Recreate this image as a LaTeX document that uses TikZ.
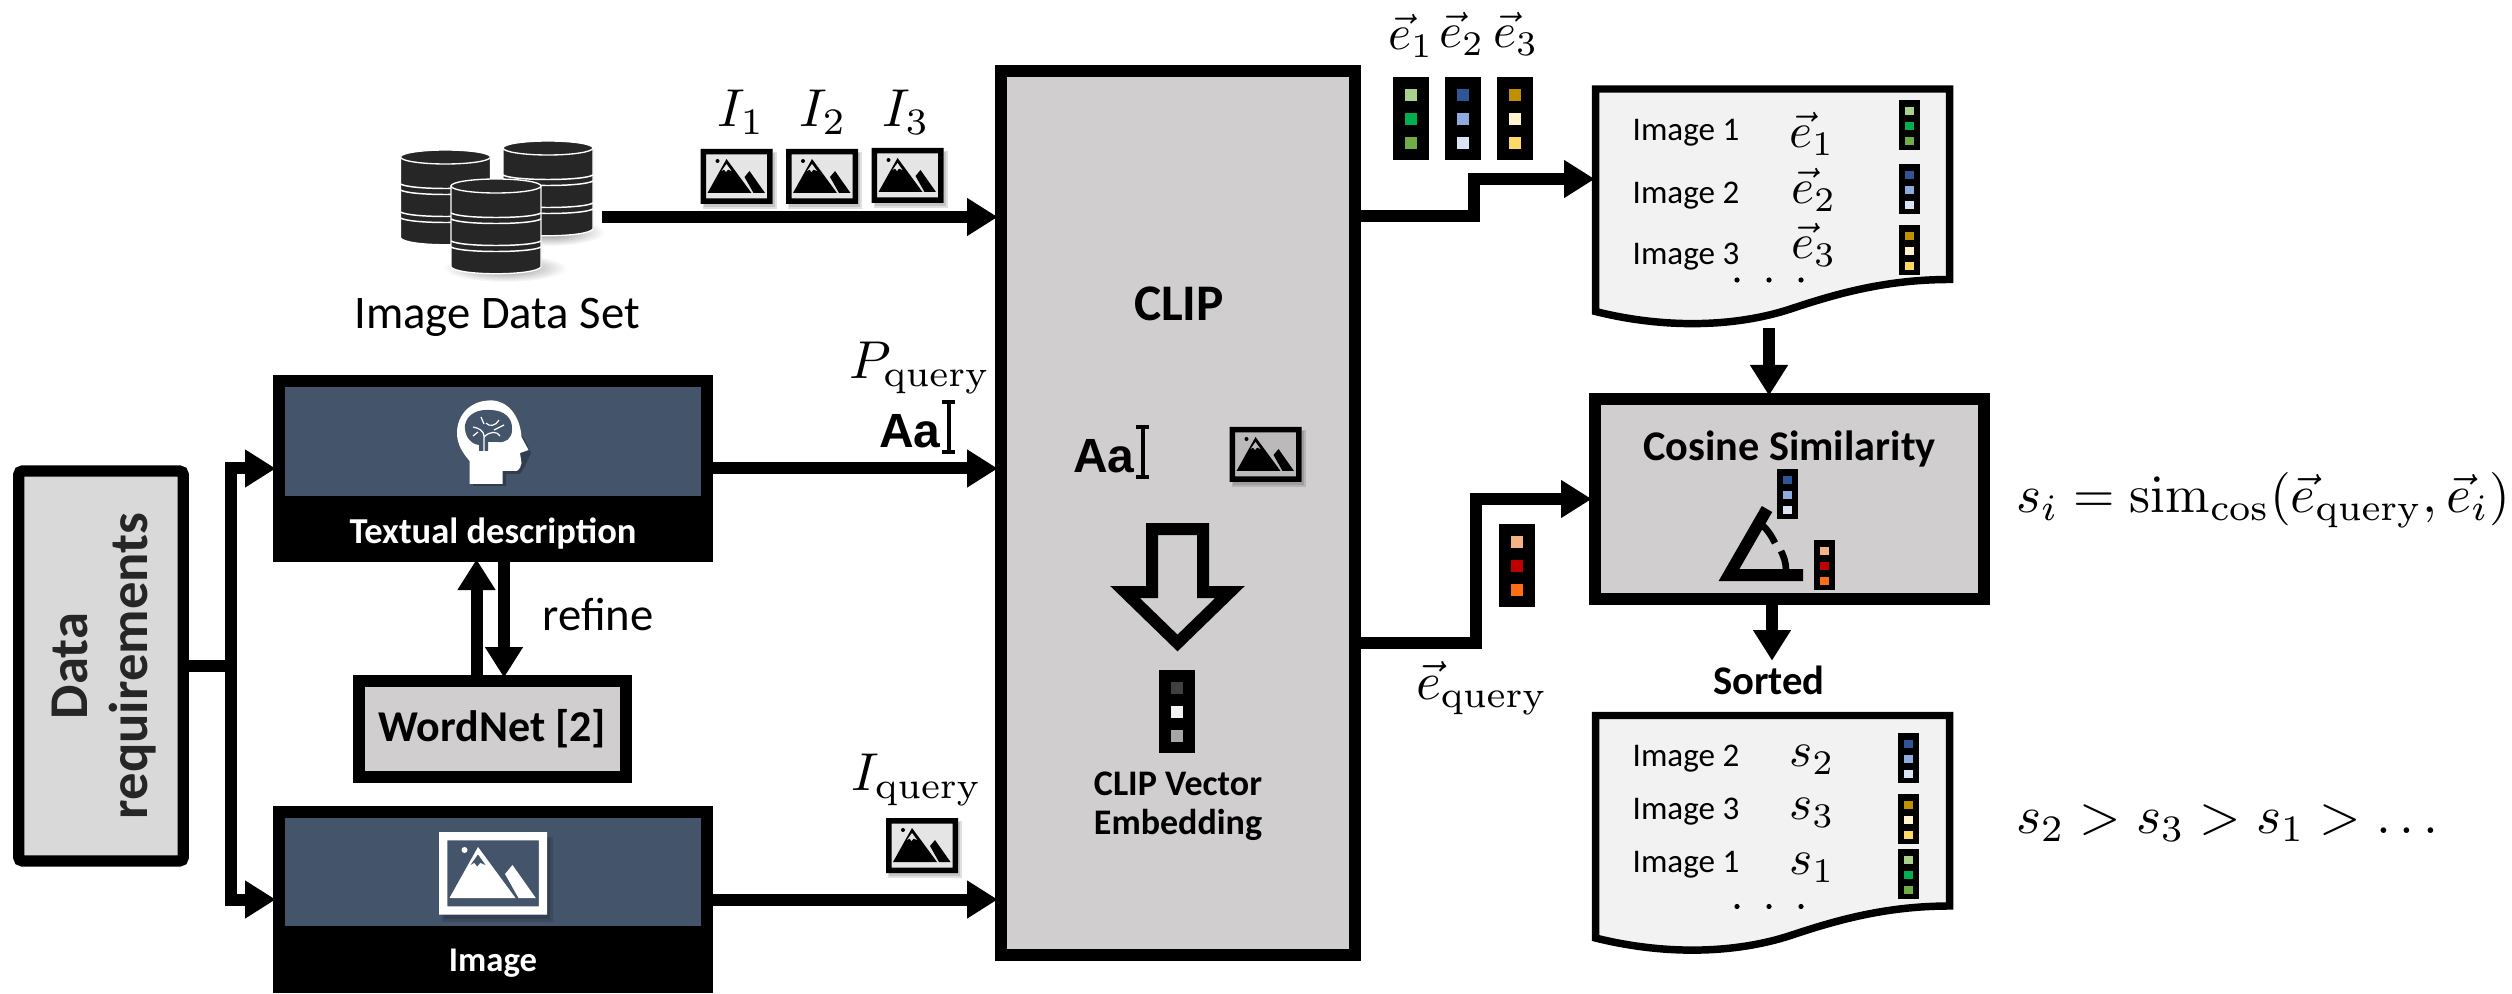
\documentclass[tikz,border=0pt]{standalone}
\usepackage{amsmath}
\usepackage{amssymb}
\usepackage[no-math]{fontspec}
\setsansfont{Carlito}
\newfontfamily\aafont{Liberation Sans}
\usepackage{tikz}
\usetikzlibrary{positioning,arrows.meta}

\definecolor{boxgray}{RGB}{208,206,206}
\definecolor{reqgray}{RGB}{217,217,217}
\definecolor{docgray}{RGB}{242,242,242}
\definecolor{headblue}{RGB}{68,84,106}
\definecolor{dbgray}{RGB}{38,38,38}

\def\pxu{0.75pt}

\tikzset{
  fl/.style={yscale=-1},
  boxnode/.style={draw=black,line width=9pt,fill=boxgray,inner sep=0pt},
  headnode/.style={fill=black,inner sep=0pt,outer sep=0pt},
  conn/.style={line width=9pt,shorten >=-2pt,-{Triangle[length=23pt,width=27pt]}},
  plainlab/.style={font=\sffamily\fontsize{#1}{#1}\selectfont,inner sep=0pt,align=center},
  boldlab/.style={font=\sffamily\bfseries\fontsize{#1}{#1}\selectfont,inner sep=0pt,align=center},
  mathlab/.style={scale=#1/10,inner sep=0pt},
  aalab/.style={font=\aafont\bfseries\fontsize{36}{36}\selectfont,inner sep=0pt},
  pics/vecicon/.style n args={3}{code={
    \fill[black] (0,0) rectangle (36,83);
    \fill[#1] (12,12) rectangle (24,24);
    \fill[#2] (12,36) rectangle (24,48);
    \fill[#3] (12,60) rectangle (24,72);
  }},
  pics/vecsmall/.style n args={3}{code={
    \fill[black] (0,0) rectangle (21,50);
    \fill[#1] (6,7) rectangle (15,15);
    \fill[#2] (6,22) rectangle (15,30);
    \fill[#3] (6,37) rectangle (15,45);
  }},
  pics/imgicon/.style n args={2}{code={
    \fill[black,opacity=.12] (2,3) rectangle (76,60);
    \fill[black,opacity=.12] (3,4) rectangle (74,58);
    \fill[#2] (0,0) rectangle (72,55);
    \fill[#1,even odd rule] (0,0) rectangle (72,55) (5.5,5.5) rectangle (66.5,49.5);
    \fill[#1] (17,12) circle (2);
    \fill[#1] (26,10) -- (51,44) -- (7,44) -- cycle;
    \fill[#2] (26,15) -- (31,22) -- (27.5,20.5) -- (25.5,23) -- (23.5,20.5) -- (21,22) -- cycle;
    \fill[#1] (44,28) -- (49,22) -- (64.5,44) -- (53,44) -- cycle;
  }},
  pics/textcursor/.style={code={
    \fill[black] (0,0) rectangle (13,4);
    \fill[black] (0,50) rectangle (13,54);
    \fill[black] (4.5,0) rectangle (8.5,54);
  }},
  pics/dbcyl/.style={code={
    \fill[dbgray,draw=white,line width=1pt] (0,7) -- (0,88) .. controls (6,97) and (84,97) .. (90,88) -- (90,7) -- cycle;
    \draw[white,line width=1.1pt] (0,34) .. controls (10,40) and (80,40) .. (90,34);
    \draw[white,line width=1.1pt] (0,40) .. controls (10,46) and (80,46) .. (90,40);
    \draw[white,line width=1.1pt] (0,62) .. controls (10,68) and (80,68) .. (90,62);
    \draw[white,line width=1.1pt] (0,68) .. controls (10,74) and (80,74) .. (90,68);
    \fill[dbgray,draw=white,line width=1pt] (45,7) ellipse (45 and 7);
  }},
  pics/docpage/.style={code={
    \draw[line width=5.6pt,fill=docgray] (0,0) -- (354,0) -- (354,190.5) .. controls (290,190.5) and (240,205) .. (195,220) .. controls (140,238) and (70,240) .. (0,222.5) -- cycle;
    \fill[black] (141.5,191) circle (2.6) (173.5,191) circle (2.6) (205.5,191) circle (2.6);
  }}
}

\begin{document}
\begin{tikzpicture}[x=0.75pt,y=0.75pt,yscale=-1,xscale=1]
\useasboundingbox (0,0) rectangle (2512,994);

%Shape: Main boxes
\node[boxnode,minimum width=354*\pxu,minimum height=884*\pxu] (clipbox) at (1178,513) {};
\node[boxnode,minimum width=389*\pxu,minimum height=200*\pxu] (cosine) at (1789.5,499) {};
\node[boxnode,minimum width=267*\pxu,minimum height=96*\pxu] (wordnet) at (492.5,729) {\fontsize{33}{33}\selectfont\sffamily\bfseries WordNet [2]};
\node[boxnode,fill=reqgray,rounded corners=3pt,line width=8.6pt,minimum width=164.5*\pxu,minimum height=390*\pxu] (datareq) at (101,666) {};
\node[boldlab=41,text=black!85,rotate=90,execute at begin node=\setlength{\baselineskip}{45pt}] (datalab) at (104,666) {Data\\requirements};

%Shape: Input boxes
\node[headnode,minimum width=440*\pxu,minimum height=187*\pxu] (textbox) at (493,468.5) {};
\fill[headblue] (285,387.5) rectangle (701,496);
\node[boldlab=27.4,text=white] (textlab) at (493,534) {Textual description};
\node[headnode,minimum width=440*\pxu,minimum height=187*\pxu] (imagebox) at (493,899.5) {};
\fill[headblue] (285,818) rectangle (701,926);
\node[boldlab=26,text=white] (imagelab) at (493,963) {Image};

%Shape: Head with brain
\fill[black,opacity=.25] (473,486) -- (506,486) -- (506,474) -- (520,474) -- (525,466) -- (531,453) -- (525,440) -- (495,404) -- (473,440) -- cycle;
\fill[white] (469.6,484) -- (502.6,484) -- (502.6,471) -- (516.7,471) .. controls (520,469) and (521,466) .. (521.5,463) -- (520,453) -- (528.5,450) -- (521.5,437) .. controls (520,415) and (507,400.4) .. (491,400.4) .. controls (470,400.4) and (457,415) .. (457,433) .. controls (457,445) and (463,453) .. (469.6,461) -- cycle;
\fill[headblue] (465,425) .. controls (467,414) and (478,409) .. (490,410) .. controls (504,410) and (513,418) .. (512,430) .. controls (512,438) and (506,443) .. (498,442) -- (488,442) -- (488,451) -- (479,451) -- (479,445) .. controls (470,444) and (464,435) .. (465,425) -- cycle;
\draw[white,line width=.9pt] (484,451) -- (484,437) .. controls (484,430) and (478,428) .. (473,427) (484,437) .. controls (490,431) and (497,431) .. (500,436) (486,423) .. controls (489,427) and (496,426) .. (499,420) (473,436) -- (478,432) (494,430) -- (504,425) (481,417) -- (484,424);

%Shape: Database cylinders
\shade[inner color=black!45,outer color=white] (550,232) ellipse (55 and 14);
\shade[inner color=black!45,outer color=white] (505,268) ellipse (62 and 14);
\pic[fl] at (400.5,150) {dbcyl};
\pic[fl] at (503,141) {dbcyl};
\pic[fl] at (451,179) {dbcyl};
\node[plainlab=35] (datalabel) at (497,317) {Image Data Set};
\coordinate (dbout) at (602,217);

%Shape: Image icons
\pic[fl] at (700.5,149) {imgicon={black}{black!10}};
\pic[fl] at (786,149) {imgicon={black}{black!10}};
\pic[fl] at (871.5,148) {imgicon={black}{black!10}};
\pic[fl] at (886,818) {imgicon={black}{black!10}};
\pic[fl] at (1229.5,427) {imgicon={black}{boxgray!90!black}};
\pic[fl,scale=1.5] at (439,832) {imgicon={white}{headblue}};
\node[mathlab=40] (ia) at (741,112) {$I_1$};
\node[mathlab=40] (ib) at (823,112) {$I_2$};
\node[mathlab=40] (ic) at (906,112) {$I_3$};
\node[mathlab=40] (pq) at (920,368) {$P_{\mathrm{query}}$};
\node[mathlab=40] (iq) at (917,780) {$I_{\mathrm{query}}$};

%Shape: Text glyphs
\node[aalab] (aaa) at (910,431) {Aa};
\pic[fl] at (942,400) {textcursor};
\node[aalab] (aab) at (1104,456) {Aa};
\pic[fl] at (1136,425) {textcursor};

%Shape: Block arrow in CLIP
\draw[line width=9pt,miter limit=6] (1152,529) -- (1203,529) -- (1203,592) -- (1230,592) -- (1177.5,643) -- (1125,592) -- (1152,592) -- cycle;
\pic[fl] at (1159,670) {vecicon={black!75}{black!5}{black!35}};
\node[boldlab=38.5] (cliplab) at (1179,304) {CLIP};
\node[plainlab=27,font=\sffamily\bfseries\fontsize{27}{29}\selectfont] (embedlab) at (1178,806) {CLIP Vector\\Embedding};

%Shape: Embedding vectors
\definecolor{gra}{HTML}{A9D18E}\definecolor{grb}{HTML}{00B050}\definecolor{grc}{HTML}{70AD47}
\definecolor{bla}{HTML}{2F5597}\definecolor{blb}{HTML}{8FAADC}\definecolor{blc}{HTML}{DAE3F3}
\definecolor{yea}{HTML}{BF9000}\definecolor{yeb}{HTML}{FFF2CC}\definecolor{yec}{HTML}{FFD966}
\definecolor{ora}{HTML}{F4B183}\definecolor{orb}{HTML}{C00000}\definecolor{orc}{HTML}{FF6D15}
\pic[fl] at (1393,77) {vecicon={gra}{grb}{grc}};
\pic[fl] at (1444.5,77) {vecicon={bla}{blb}{blc}};
\pic[fl] at (1497,77) {vecicon={yea}{yeb}{yec}};
\pic[fl] at (1499,524) {vecicon={ora}{orb}{orc}};
\node[mathlab=37] (ea) at (1411,36) {$\vec{e}_1$};
\node[mathlab=37] (eb) at (1462,34) {$\vec{e}_2$};
\node[mathlab=37] (ec) at (1516,34) {$\vec{e}_3$};
\node[mathlab=40] (eq) at (1482,688) {$\vec{e}_{\mathrm{query}}$};

%Shape: Result pages
\pic[fl] at (1595.5,89) {docpage};
\node[plainlab=24.8] (topa) at (1686,133) {Image 1};
\node[plainlab=24.8] (topb) at (1686,196) {Image 2};
\node[plainlab=24.8] (topc) at (1686,257) {Image 3};
\node[mathlab=37] (topea) at (1812,134) {$\vec{e}_1$};
\node[mathlab=37] (topeb) at (1814,190) {$\vec{e}_2$};
\node[mathlab=37] (topec) at (1814,245) {$\vec{e}_3$};
\pic[fl] at (1899,100) {vecsmall={gra}{grb}{grc}};
\pic[fl] at (1899,164) {vecsmall={bla}{blb}{blc}};
\pic[fl] at (1899,225) {vecsmall={yea}{yeb}{yec}};
\pic[fl] at (1595.5,715.5) {docpage};
\node[plainlab=24.8] (bota) at (1686,759) {Image 2};
\node[plainlab=24.8] (botb) at (1686,812) {Image 3};
\node[plainlab=24.8] (botc) at (1686,865) {Image 1};
\node[mathlab=37] (botsa) at (1812,760) {$s_2$};
\node[mathlab=37] (botsb) at (1812,813) {$s_3$};
\node[mathlab=37] (botsc) at (1812,868) {$s_1$};
\pic[fl] at (1898,733) {vecsmall={bla}{blb}{blc}};
\pic[fl] at (1898,794) {vecsmall={yea}{yeb}{yec}};
\pic[fl] at (1898,849) {vecsmall={gra}{grb}{grc}};

%Shape: Cosine content
\node[boldlab=31.7] (coslab) at (1789.5,449) {Cosine Similarity};
\pic[fl] at (1776.6,469) {vecsmall={bla}{blb}{blc}};
\pic[fl] at (1814,540) {vecsmall={ora}{orb}{orc}};
\draw[line width=9pt] (1767,509) -- (1729,575) -- (1803,575);
\draw[line width=5pt] (1761,524) .. controls (1768,530) and (1772,537) .. (1775,543);
\draw[line width=5pt] (1781,551) .. controls (1784,557) and (1786,563) .. (1786,570);
\node[boldlab=30.5] (sorted) at (1769,680) {Sorted};

%Shape: Formulas
\node[mathlab=40,anchor=west] (simf) at (2015,500) {$s_i=\operatorname{sim}_{\cos}(\vec{e}_{\mathrm{query}},\vec{e}_i)$};
\node[mathlab=40,anchor=west] (orderf) at (2015,823) {$s_2>s_3>s_1>\dots$};

%Connector coordinates
\coordinate (branch) at (231,0);
\coordinate (upx) at (476.5,0);
\coordinate (downx) at (504,0);
\coordinate (topclip) at (0,216);
\coordinate (docleft) at (1592,179);
\coordinate (docbot) at (1769,328);
\coordinate (sorttip) at (1772,658);

%Connector: input side
\draw[conn] (datareq.east) -| (branch |- textbox.west) -- (textbox.west);
\draw[conn] (datareq.east) -| (branch |- imagebox.west) -- (imagebox.west);
\draw[conn] (dbout) -- (clipbox.west |- dbout);
\draw[conn] (textbox.east) -- (clipbox.west |- textbox.east);
\draw[conn] (imagebox.east) -- (clipbox.west |- imagebox.east);
\draw[conn] (wordnet.north -| upx) -- (textbox.south -| upx);
\draw[conn] (textbox.south -| downx) -- (wordnet.north -| downx);

%Connector: output side
\draw[conn] (clipbox.east |- topclip) -- ++(113,0) |- (docleft);
\draw[conn] (clipbox.east |- 0,643) -- ++(115,0) |- (cosine.west);
\draw[conn] (docbot) -- (docbot |- cosine.north);
\draw[conn] (cosine.south -| sorttip) -- (sorttip);

%Label
\node[plainlab=35] (refine) at (598,615) {refine};

\end{tikzpicture}
\end{document}
